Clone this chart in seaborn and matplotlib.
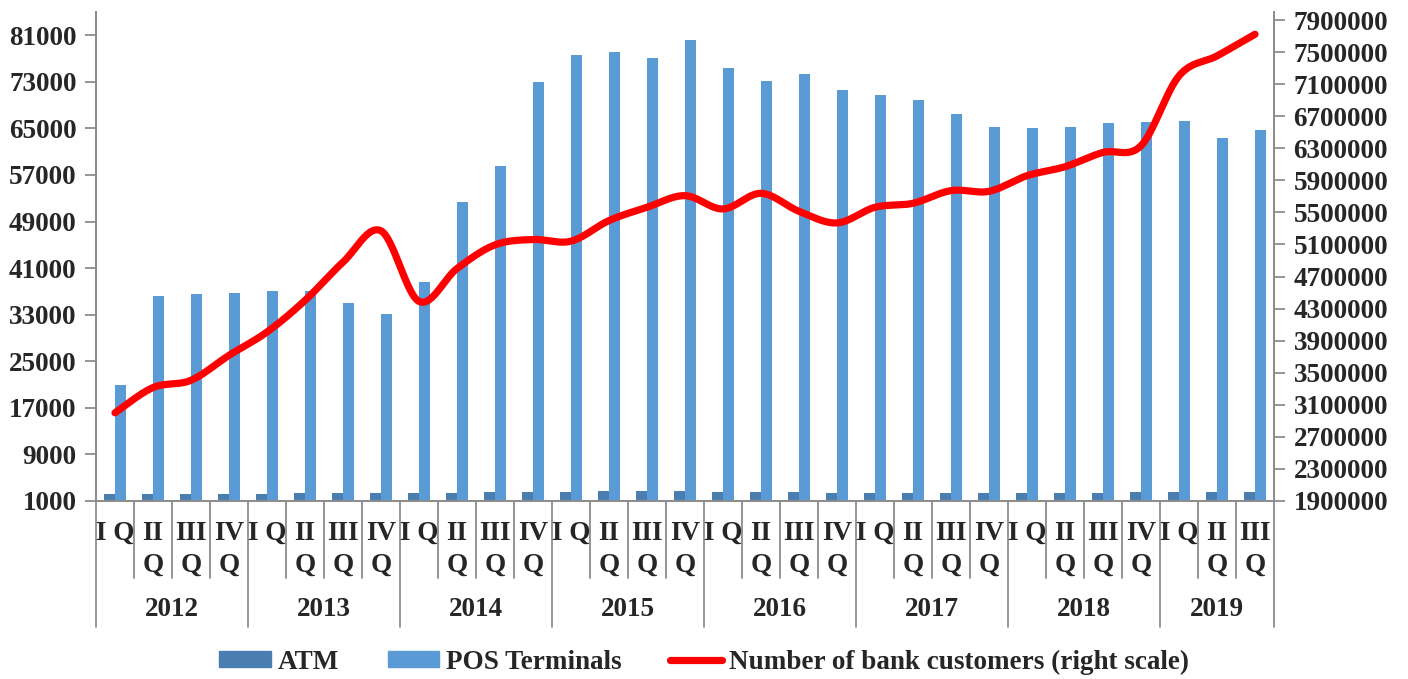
import numpy as np
import pandas as pd
import seaborn as sns
import matplotlib
matplotlib.use('Agg')
import matplotlib.pyplot as plt
from matplotlib.patches import Patch
from matplotlib.lines import Line2D
from matplotlib.ticker import FuncFormatter

sns.set_style('white')
plt.rcParams['font.family'] = ['Liberation Serif', 'DejaVu Serif']
plt.rcParams['font.weight'] = 'bold'

years = ['2012', '2013', '2014', '2015', '2016', '2017', '2018', '2019']
quarters = ['I', 'II', 'III', 'IV']
periods = [y + ' ' + q for y in years for q in quarters][:31]

atm = [2150, 2200, 2200, 2200, 2250, 2320, 2370, 2370, 2420, 2420, 2490,
       2590, 2590, 2660, 2660, 2660, 2540, 2540, 2490, 2420, 2420, 2420,
       2420, 2370, 2420, 2420, 2420, 2490, 2490, 2540, 2540]
pos = [20860, 36150, 36560, 36740, 37130, 37080, 35020, 33140, 38620, 52320,
       58530, 72920, 77540, 78100, 77030, 80230, 75430, 73140, 74290, 71670,
       70690, 69890, 67490, 65330, 64990, 65330, 65850, 66020, 66290, 63330,
       64650]
customers = [3000000, 3315000, 3406000, 3717000, 4008000, 4402000, 4879000,
             5270000, 4390000, 4800000, 5095000, 5162000, 5141000, 5398000,
             5564000, 5709000, 5543000, 5738000, 5514000, 5369000, 5564000,
             5614000, 5772000, 5763000, 5958000, 6070000, 6248000, 6332000,
             7203000, 7452000, 7722000]

c_atm = '#4a7db0'
c_pos = '#5b9bd5'
fs = 19.5

df = pd.DataFrame({'period': periods * 2,
                   'kind': ['ATM'] * 31 + ['POS Terminals'] * 31,
                   'value': atm + pos})

fig = plt.figure(figsize=(14.08, 6.79), dpi=100)
ax = fig.add_axes([96 / 1408, 1 - 501 / 679, 1178 / 1408, 489 / 679])

sns.barplot(data=df, x='period', y='value', hue='kind', palette=[c_atm, c_pos],
            width=0.56, linewidth=0, saturation=1, legend=False, ax=ax)
ax.set_ylim(1000, 85000)
ax.set_yticks(np.arange(1000, 81001, 8000))
ax.set_xlim(-0.5, 30.5)
ax.set_xlabel('')
ax.set_ylabel('')
ax.set_xticks([])


# smoothed line like excel (bezier through the points)
def smooth(y, n=30):
    p = np.asarray(y, dtype=float)
    x = np.arange(len(p), dtype=float)
    xs, ys = [], []
    for i in range(len(p) - 1):
        pm = p[i - 1] if i > 0 else p[i]
        pp = p[i + 2] if i + 2 < len(p) else p[i + 1]
        xm = x[i - 1] if i > 0 else x[i]
        xp = x[i + 2] if i + 2 < len(p) else x[i + 1]
        c1y = p[i] + (p[i + 1] - pm) / 6
        c2y = p[i + 1] - (pp - p[i]) / 6
        c1x = x[i] + (x[i + 1] - xm) / 6
        c2x = x[i + 1] - (xp - x[i]) / 6
        t = np.linspace(0, 1, n)
        b = [(1 - t) ** 3, 3 * (1 - t) ** 2 * t, 3 * (1 - t) * t ** 2, t ** 3]
        xs.append(b[0] * x[i] + b[1] * c1x + b[2] * c2x + b[3] * x[i + 1])
        ys.append(b[0] * p[i] + b[1] * c1y + b[2] * c2y + b[3] * p[i + 1])
    return np.concatenate(xs), np.concatenate(ys)


ax2 = ax.twinx()
sx, sy = smooth(customers)
ax2.plot(sx, sy, color='#ff0000', lw=5.2, solid_capstyle='round')
ax2.set_ylim(1900000, 8000000)
ax2.set_yticks(np.arange(1900000, 7900001, 400000))
ax2.yaxis.set_major_formatter(FuncFormatter(lambda v, p: '%d' % round(v)))
ax2.set_xlim(-0.5, 30.5)

axis_col = '#8c8c8c'
for a in (ax, ax2):
    for s in a.spines.values():
        s.set_color(axis_col)
        s.set_linewidth(1.3)
    a.spines['top'].set_visible(False)
    a.tick_params(axis='y', direction='out', length=8, width=1.3,
                  color=axis_col, labelsize=fs, pad=6)
    a.grid(False)
for lab in ax.get_yticklabels() + ax2.get_yticklabels():
    lab.set_fontweight('bold')


def fy(px):
    return (501 - px) / 489


tr = ax.get_xaxis_transform()
for k in range(32):
    bottom = fy(627) if k % 4 == 0 or k == 31 else fy(578)
    ax.plot([k - 0.5, k - 0.5], [0, bottom], transform=tr, color=axis_col,
            lw=1.3, clip_on=False)

for i in range(31):
    q = quarters[i % 4]
    if q == 'I':
        ax.text(i, fy(533), 'I Q', transform=tr, ha='center', va='center',
                fontsize=fs, fontweight='bold')
    else:
        ax.text(i, fy(533), q, transform=tr, ha='center', va='center',
                fontsize=fs, fontweight='bold')
        ax.text(i, fy(565), 'Q', transform=tr, ha='center', va='center',
                fontsize=fs, fontweight='bold')

for j, yr in enumerate(years):
    start = j * 4
    end = min(start + 4, 31)
    ax.text((start + end - 1) / 2, fy(610), yr, transform=tr, ha='center',
            va='center', fontsize=fs, fontweight='bold')

handles = [Patch(color=c_atm, label='ATM'),
           Patch(color=c_pos, label='POS Terminals'),
           Line2D([0], [0], color='#ff0000', lw=5.2, label='Number of bank customers (right scale)')]
fig.legend(handles=handles, loc='center', bbox_to_anchor=(0.5, 1 - 662 / 679),
           ncol=3, frameon=False, handlelength=1.9,
           handleheight=0.55, handletextpad=0.25, columnspacing=1.8,
           prop={'weight': 'bold', 'size': fs})

fig.savefig('out.png', dpi=100)
